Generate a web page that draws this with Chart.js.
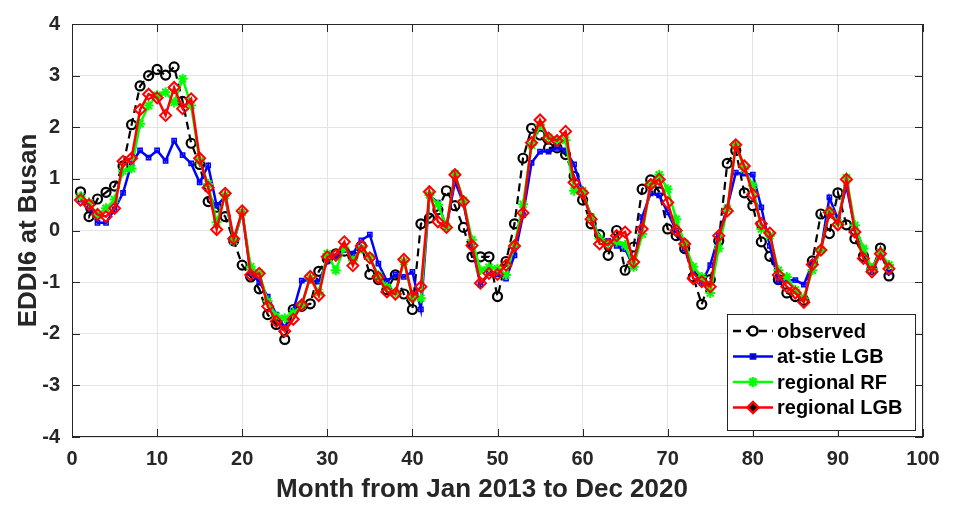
<!DOCTYPE html>
<html>
<head>
<meta charset="utf-8">
<script src="https://cdn.jsdelivr.net/npm/chart.js@4"></script>
<style>
  html, body { margin: 0; padding: 0; background: #fff; }
  #wrap { width: 953px; height: 511px; position: relative; }
</style>
</head>
<body>
<div id="wrap"><canvas id="eddiChart"></canvas></div>
<script>
// Month index 1..96 (Jan 2013 .. Dec 2020)
const months = Array.from({ length: 96 }, (_, i) => i + 1);

const observed = [
  0.75, 0.27, 0.61, 0.74, 0.86, 1.25, 2.05, 2.8, 3.0, 3.12, 3.01, 3.17,
  2.5, 1.69, 1.28, 0.56, 0.45, 0.27, -0.2, -0.67, -0.9, -1.13, -1.63, -1.82,
  -2.11, -1.53, -1.47, -1.42, -0.79, -0.55, -0.45, -0.4, -0.5, -0.3, -0.85, -0.95,
  -1.15, -0.86, -1.23, -1.53, 0.13, 0.24, 0.4, 0.77, 0.48, 0.06, -0.51, -0.51,
  -0.51, -1.28, -0.6, 0.13, 1.4, 1.98, 1.85, 1.6, 1.6, 1.47, 1.05, 0.59,
  0.13, -0.08, -0.48, 0.0, -0.77, -0.32, 0.8, 0.98, 0.75, 0.03, -0.1, -0.35,
  -0.9, -1.43, -0.95, -0.2, 1.3, 1.55, 0.73, 0.48, -0.22, -0.5, -0.95, -1.21,
  -1.28, -1.35, -0.59, 0.32, -0.06, 0.73, 0.11, -0.16, -0.5, -0.75, -0.34, -0.88
];

const atSiteLGB = [
  0.6, 0.45, 0.15, 0.15, 0.41, 0.73, 1.3, 1.55, 1.41, 1.55, 1.35, 1.74,
  1.46, 1.3, 0.93, 1.26, 0.48, 0.65, -0.21, 0.35, -0.83, -0.99, -1.28, -1.63,
  -1.88, -1.55, -0.97, -0.97, -0.99, -0.6, -0.5, -0.38, -0.45, -0.19, -0.08, -0.64,
  -0.98, -0.86, -0.9, -0.8, -1.53, 0.68, 0.54, 0.06, 0.95, 0.53, -0.3, -1.05,
  -0.83, -0.85, -0.93, -0.48, 0.3, 1.31, 1.53, 1.53, 1.6, 1.55, 1.28, 0.73,
  0.28, -0.16, -0.2, -0.3, -0.36, -0.7, 0.26, 0.72, 0.68, 0.35, 0.0, -0.35,
  -0.8, -1.02, -0.67, -0.1, 0.45, 1.12, 1.1, 1.08, 0.45, -0.3, -0.99, -0.97,
  -0.96, -1.05, -0.64, -0.38, 0.64, 0.22, 0.86, 0.04, -0.35, -0.8, -0.45, -0.8
];

const regionalRF = [
  0.66, 0.54, 0.3, 0.43, 0.6, 1.15, 1.2, 2.07, 2.42, 2.62, 2.68, 2.48,
  2.94, 2.42, 1.35, 0.9, 0.16, 0.68, -0.2, 0.35, -0.7, -0.83, -1.37, -1.66,
  -1.7, -1.6, -1.45, -0.92, -1.2, -0.45, -0.77, -0.33, -0.58, -0.35, -0.52, -0.87,
  -1.1, -1.2, -0.6, -1.3, -1.31, 0.69, 0.5, 0.08, 1.1, 0.58, -0.18, -0.77,
  -0.71, -0.74, -0.86, -0.28, 0.51, 1.65, 2.05, 1.8, 1.75, 1.75, 0.77, 0.77,
  0.25, -0.16, -0.25, -0.22, -0.28, -0.7, -0.07, 0.89, 1.08, 0.8, 0.22, -0.25,
  -0.7, -0.9, -1.21, -0.35, 0.42, 1.66, 1.19, 0.87, 0.03, -0.1, -0.77, -0.9,
  -1.15, -1.31, -0.77, -0.38, 0.38, 0.15, 1.02, 0.1, -0.35, -0.74, -0.42, -0.67
];

const regionalLGB = [
  0.59, 0.5, 0.31, 0.27, 0.43, 1.34, 1.4, 2.34, 2.64, 2.57, 2.23, 2.77,
  2.36, 2.55, 1.4, 0.83, 0.02, 0.72, -0.16, 0.38, -0.86, -0.83, -1.47, -1.76,
  -1.95, -1.72, -1.44, -0.89, -1.26, -0.51, -0.48, -0.22, -0.68, -0.3, -0.53, -0.91,
  -1.19, -1.23, -0.56, -1.28, -1.09, 0.75, 0.17, 0.06, 1.08, 0.56, -0.29, -1.02,
  -0.83, -0.85, -0.67, -0.3, 0.34, 1.7, 2.14, 1.79, 1.74, 1.92, 0.93, 0.73,
  0.22, -0.26, -0.27, -0.1, -0.03, -0.61, 0.03, 0.89, 0.99, 0.54, 0.0, -0.26,
  -0.93, -0.99, -1.09, -0.1, 0.38, 1.66, 1.25, 0.7, 0.13, -0.05, -0.86, -1.09,
  -1.21, -1.39, -0.66, -0.38, 0.35, 0.11, 0.99, -0.03, -0.54, -0.8, -0.45, -0.74
];

const xTicks = [0, 10, 20, 30, 40, 50, 60, 70, 80, 90, 100];
const yTicks = [-4, -3, -2, -1, 0, 1, 2, 3, 4];
const xTitle = 'Month from Jan 2013 to Dec 2020';
const yTitle = 'EDDI6 at Busan';

const FONT = "'Liberation Sans', Arial, sans-serif";

function toPoints(arr) {
  return arr.map((v, i) => ({ x: months[i], y: v }));
}

// MATLAB style box with inward ticks, plus the axis titles
const boxPlugin = {
  id: 'boxFrame',
  afterDraw(chart) {
    const { ctx, chartArea: a, scales } = chart;
    ctx.save();
    ctx.strokeStyle = '#262626';
    ctx.lineWidth = 1;
    ctx.strokeRect(a.left + 0.5, a.top + 0.5, a.right - a.left - 1, a.bottom - a.top - 1);
    ctx.beginPath();
    xTicks.forEach(t => {
      const px = Math.round(scales.x.getPixelForValue(t)) + 0.5;
      ctx.moveTo(px, a.bottom); ctx.lineTo(px, a.bottom - 8);
      ctx.moveTo(px, a.top); ctx.lineTo(px, a.top + 8);
    });
    yTicks.forEach(t => {
      const py = Math.round(scales.y.getPixelForValue(t)) + 0.5;
      ctx.moveTo(a.left, py); ctx.lineTo(a.left + 8, py);
      ctx.moveTo(a.right, py); ctx.lineTo(a.right - 8, py);
    });
    ctx.stroke();

    ctx.fillStyle = '#262626';
    ctx.font = 'bold 26px ' + FONT;
    ctx.textAlign = 'center';
    ctx.textBaseline = 'middle';
    ctx.fillText(xTitle, 482, 490);
    ctx.translate(29, (a.top + a.bottom) / 2);
    ctx.rotate(-Math.PI / 2);
    ctx.fillText(yTitle, 0, 0);
    ctx.restore();
  }
};

// legend drawn inside the plot, lower right
const insideLegend = {
  id: 'insideLegend',
  afterDraw(chart) {
    const { ctx, chartArea: a } = chart;
    const w = 188, h = 116;
    const x0 = a.right - 8 - w, y0 = a.bottom - 7 - h;
    ctx.save();
    ctx.fillStyle = '#fff';
    ctx.fillRect(x0, y0, w, h);
    ctx.strokeStyle = '#262626';
    ctx.lineWidth = 1;
    ctx.strokeRect(x0 + 0.5, y0 + 0.5, w, h);
    ctx.font = 'bold 20px ' + FONT;
    ctx.textBaseline = 'middle';
    chart.data.datasets.forEach((ds, i) => {
      const cy = y0 + 17 + i * 25.5;
      ctx.strokeStyle = ds.borderColor;
      ctx.lineWidth = 2.5;
      ctx.setLineDash(ds.borderDash || []);
      ctx.beginPath();
      ctx.moveTo(x0 + 6, cy);
      ctx.lineTo(x0 + 46, cy);
      ctx.stroke();
      ctx.setLineDash([]);
      Chart.helpers.drawPoint(ctx, {
        pointStyle: ds.pointStyle,
        radius: ds.pointRadius,
        rotation: 0,
        borderWidth: ds.pointBorderWidth
      }, x0 + 26, cy);
      ctx.fillStyle = '#000';
      ctx.fillText(ds.label, x0 + 50, cy + 1);
    });
    ctx.restore();
  }
};

new Chart(document.getElementById('eddiChart'), {
  type: 'line',
  data: {
    datasets: [
      {
        label: 'observed',
        data: toPoints(observed),
        borderColor: '#000',
        borderWidth: 2.2,
        borderDash: [8, 5],
        pointStyle: 'circle',
        pointRadius: 4.5,
        pointBorderWidth: 2.2,
        pointBorderColor: '#000',
        pointBackgroundColor: 'rgba(0,0,0,0)',
        order: 4
      },
      {
        label: 'at-stie LGB',
        data: toPoints(atSiteLGB),
        borderColor: '#0000ff',
        borderWidth: 2.5,
        pointStyle: 'rect',
        pointRadius: 3,
        pointBorderWidth: 1.5,
        pointBorderColor: '#0000ff',
        pointBackgroundColor: 'rgba(0,0,0,0)',
        order: 3
      },
      {
        label: 'regional RF',
        data: toPoints(regionalRF),
        borderColor: '#00ff00',
        borderWidth: 2.5,
        pointStyle: 'star',
        pointRadius: 5,
        pointBorderWidth: 2,
        pointBorderColor: '#00ff00',
        pointBackgroundColor: '#00ff00',
        order: 2
      },
      {
        label: 'regional LGB',
        data: toPoints(regionalLGB),
        borderColor: '#ff0000',
        borderWidth: 2.5,
        pointStyle: 'rectRot',
        pointRadius: 5.5,
        pointBorderWidth: 2,
        pointBorderColor: '#ff0000',
        pointBackgroundColor: 'rgba(0,0,0,0)',
        order: 1
      }
    ]
  },
  options: {
    responsive: true,
    maintainAspectRatio: false,
    animation: false,
    layout: { padding: { top: 20, right: 30, left: 0, bottom: 0 } },
    plugins: {
      legend: { display: false },
      tooltip: { enabled: false }
    },
    elements: { line: { tension: 0 } },
    scales: {
      x: {
        type: 'linear',
        min: 0,
        max: 100,
        afterBuildTicks: s => { s.ticks = xTicks.map(v => ({ value: v })); },
        afterFit: s => { s.height = 74; },
        grid: { color: '#e4e4e4', drawTicks: false },
        border: { display: false },
        ticks: {
          color: '#262626',
          padding: 10,
          maxRotation: 0,
          font: { family: FONT, size: 20, weight: 'bold' }
        }
      },
      y: {
        min: -4,
        max: 4,
        afterBuildTicks: s => { s.ticks = yTicks.map(v => ({ value: v })); },
        afterFit: s => { s.width = 72; },
        grid: { color: '#e4e4e4', drawTicks: false },
        border: { display: false },
        ticks: {
          color: '#262626',
          padding: 12,
          font: { family: FONT, size: 20, weight: 'bold' }
        }
      }
    }
  },
  plugins: [boxPlugin, insideLegend]
});
</script>
</body>
</html>
